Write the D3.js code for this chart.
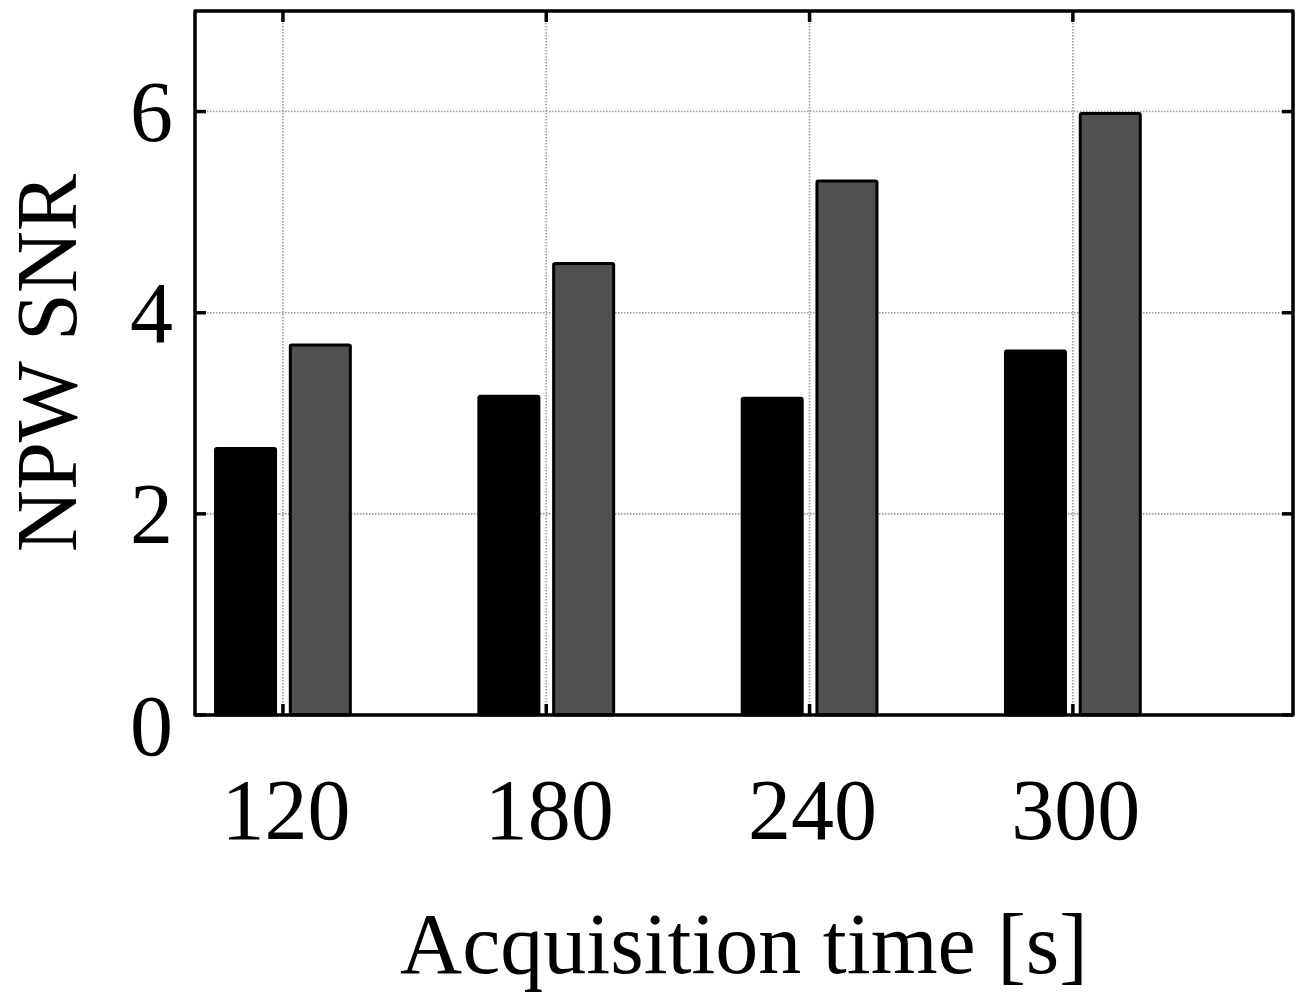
<!DOCTYPE html>
<html>
<head>
<meta charset="utf-8">
<script src="https://cdn.jsdelivr.net/npm/d3@7"></script>
<style>
  body { margin: 0; background: #fff; }
  svg text { font-family: "Liberation Serif", "Times New Roman", serif; fill: #000; }
  .grid line { stroke: #999; stroke-width: 1.6; stroke-dasharray: 1.5,1.5; }
</style>
</head>
<body>
<div id="chart"></div>
<script>
var width  = 1302;
var height = 995;

// data
var categories = ["120", "180", "240", "300"];
var seriesBlack = [2.65, 3.17, 3.15, 3.62];
var seriesGray  = [3.68, 4.49, 5.31, 5.98];
var yTicks = [0, 2, 4, 6];

var margin = {top: 11, right: 9, bottom: 280, left: 195};
var plotW = width - margin.left - margin.right;
var plotH = height - margin.top - margin.bottom;

// MATLAB style grouped bars: groups at 1..4
var x = d3.scaleLinear().domain([0.666, 4.836]).range([0, plotW]);
var y = d3.scaleLinear().domain([0, 7]).range([plotH, 0]);

var barOffset = 0.142;
var barW = x(0.228) - x(0);

var svg = d3.select("#chart").append("svg")
  .attr("width", width)
  .attr("height", height);

var g = svg.append("g")
  .attr("transform", "translate(" + margin.left + "," + margin.top + ")");

// grid
var grid = g.append("g").attr("class", "grid");
grid.selectAll(".vg").data(categories).enter().append("line")
  .attr("x1", (d, i) => x(i + 1)).attr("x2", (d, i) => x(i + 1))
  .attr("y1", 0).attr("y2", plotH);
grid.selectAll(".hg").data(yTicks.filter(d => d > 0)).enter().append("line")
  .attr("x1", 0).attr("x2", plotW)
  .attr("y1", d => y(d)).attr("y2", d => y(d));

// bars
var series = [
  {values: seriesBlack, fill: "#000000", off: -barOffset},
  {values: seriesGray,  fill: "#505050", off:  barOffset}
];
series.forEach(function(s) {
  g.append("g").selectAll("rect").data(s.values).enter().append("rect")
    .attr("x", (d, i) => x(i + 1 + s.off) - barW / 2)
    .attr("y", d => y(d))
    .attr("width", barW)
    .attr("height", d => y(0) - y(d))
    .attr("rx", 1.5)
    .attr("fill", s.fill)
    .attr("stroke", "#000")
    .attr("stroke-width", 3);
});

// axes box with inward ticks on all sides
var tickLen = 11;
var axes = g.append("g").attr("stroke", "#000").attr("stroke-width", 3.5).attr("fill", "none");
axes.append("rect").attr("x", 0).attr("y", 0).attr("width", plotW).attr("height", plotH)
  .attr("stroke-linejoin", "round");
categories.forEach(function(c, i) {
  axes.append("line").attr("x1", x(i + 1)).attr("x2", x(i + 1)).attr("y1", plotH).attr("y2", plotH - tickLen);
  axes.append("line").attr("x1", x(i + 1)).attr("x2", x(i + 1)).attr("y1", 0).attr("y2", tickLen);
});
yTicks.forEach(function(t) {
  axes.append("line").attr("x1", 0).attr("x2", tickLen).attr("y1", y(t)).attr("y2", y(t));
  axes.append("line").attr("x1", plotW).attr("x2", plotW - tickLen).attr("y1", y(t)).attr("y2", y(t));
});

// tick labels
g.append("g").selectAll("text").data(categories).enter().append("text")
  .attr("x", (d, i) => x(i + 1) + 3)
  .attr("y", plotH + 124)
  .attr("text-anchor", "middle")
  .style("font-size", "86px")
  .text(d => d);

g.append("g").selectAll("text").data(yTicks).enter().append("text")
  .attr("x", -22)
  .attr("y", d => y(d) + (d === 0 ? 40 : 29))
  .attr("text-anchor", "end")
  .style("font-size", "86px")
  .text(d => d);

// axis titles
g.append("text")
  .attr("x", plotW / 2)
  .attr("y", plotH + 258)
  .attr("text-anchor", "middle")
  .style("font-size", "86px")
  .text("Acquisition time [s]");

g.append("text")
  .attr("transform", "translate(" + (-119) + "," + (plotH / 2) + ") rotate(-90)")
  .attr("text-anchor", "middle")
  .style("font-size", "86px")
  .text("NPW SNR");
</script>
</body>
</html>
